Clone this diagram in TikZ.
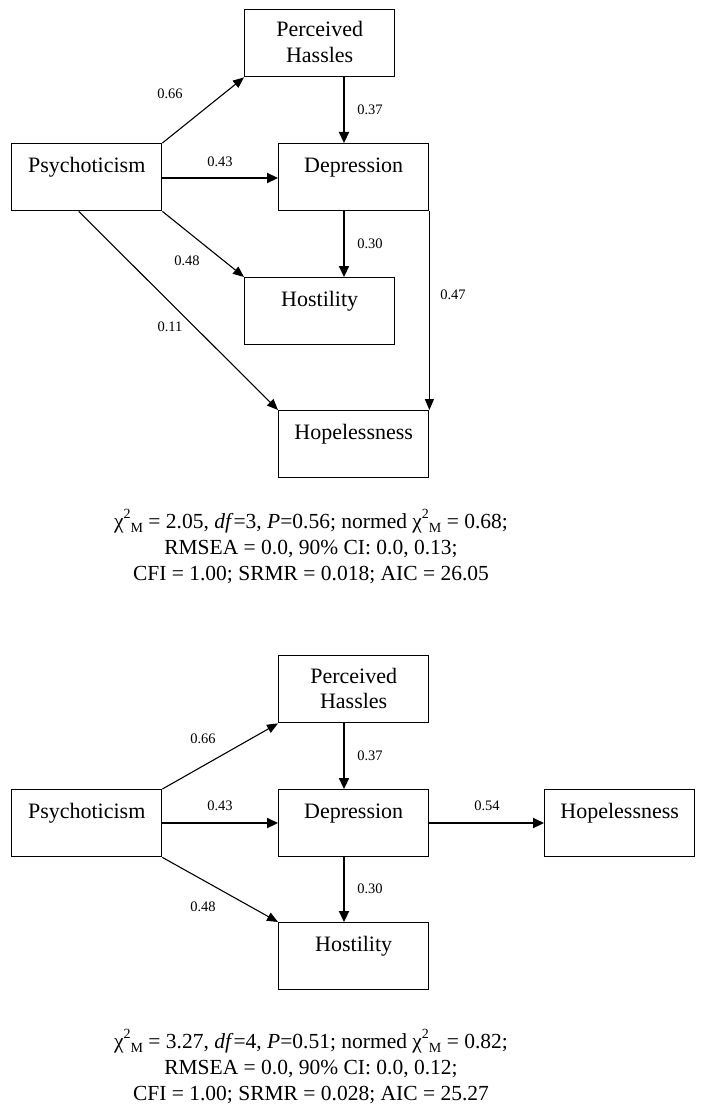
\documentclass[tikz,border=0pt]{standalone}
\usepackage{fontspec}
\setmainfont{Liberation Serif}
\usetikzlibrary{arrows.meta,calc}
\newcommand\mysup[1]{\raisebox{0.42em}{\fontsize{14}{14}\selectfont #1}}
\newcommand\mysub[1]{\raisebox{-0.22em}{\fontsize{14}{14}\selectfont #1}}
\begin{document}
\begin{tikzpicture}[x=1pt,y=-1pt,
  box/.style={draw,line width=1.4pt,minimum width=150pt,minimum height=67pt,inner sep=0pt,anchor=north west},
  boxtxt/.style={anchor=base,inner sep=0pt,font=\fontsize{22}{26}\selectfont},
  wt/.style={anchor=center,inner sep=0pt,font=\fontsize{14.5}{16}\selectfont},
  fitline/.style={anchor=base,inner sep=0pt,font=\fontsize{21.5}{24}\selectfont},
  arrthin/.style={line width=1.1pt,-{Triangle[length=11pt,width=9pt]}},
  arrthick/.style={line width=2.2pt,-{Triangle[length=11pt,width=10pt]}}]
\useasboundingbox (0,0) rectangle (707,1113);
\fill[white] (0,0) rectangle (707,1113);
% ---------- top model ----------
\node[box] (ph) at (244,9) {};
\node[box] (psy) at (11,143) {};
\node[box] (dep) at (278,143) {};
\node[box] (hos) at (244,277) {};
\node[box] (hop) at (278,410) {};
\node[boxtxt] (phA) at ($(ph.north)+(0,28)$) {Perceived};
\node[boxtxt] (phB) at ($(ph.north)+(0,54)$) {Hassles};
\node[boxtxt] (psyT) at ($(psy.north)+(0,29.5)$) {Psychoticism};
\node[boxtxt] (depT) at ($(dep.north)+(0,29.5)$) {Depression};
\node[boxtxt] (hosT) at ($(hos.north)+(0,29.5)$) {Hostility};
\node[boxtxt] (hopT) at ($(hop.north)+(0,29.5)$) {Hopelessness};
\coordinate (cx) at (344,0);
\coordinate (cy) at (0,178);
\draw[arrthin] (psy.north east) -- (ph.south west);
\draw[arrthick] (ph.south -| cx) -- (dep.north -| cx);
\draw[arrthick] (psy.east |- cy) -- (dep.west |- cy);
\draw[arrthin] (psy.south east) -- (hos.north west);
\draw[arrthin] ($(psy.south west)!0.447!(psy.south east)$) -- (hop.north west);
\draw[arrthick] (dep.south -| cx) -- (hos.north -| cx);
\draw[arrthin] (dep.south east) -- (dep.south east |- hop.north);
\node[wt] (w1) at (170,94) {0.66};
\node[wt] (w2) at (370,110) {0.37};
\node[wt] (w3) at (220,162) {0.43};
\node[wt] (w4) at (187,261) {0.48};
\node[wt] (w5) at (170,327) {0.11};
\node[wt] (w6) at (370,244) {0.30};
\node[wt] (w7) at (453,295) {0.47};
\node[fitline] (f1) at (311,528) {χ\mysup{2}\mysub{M} = 2.05, \textit{df}=3, \textit{P}=0.56; normed χ\mysup{2}\mysub{M} = 0.68;};
\node[fitline] (f2) at (311,554) {RMSEA = 0.0, 90\% CI: 0.0, 0.13;};
\node[fitline] (f3) at (311,580) {CFI = 1.00; SRMR = 0.018; AIC = 26.05};
% ---------- bottom model ----------
\node[box] (ph2) at (278,655) {};
\node[box] (psy2) at (11,789) {};
\node[box] (dep2) at (278,789) {};
\node[box] (hop2) at (544,789) {};
\node[box] (hos2) at (278,922) {};
\node[boxtxt] (ph2A) at ($(ph2.north)+(0,28)$) {Perceived};
\node[boxtxt] (ph2B) at ($(ph2.north)+(0,53)$) {Hassles};
\node[boxtxt] (psy2T) at ($(psy2.north)+(0,29)$) {Psychoticism};
\node[boxtxt] (dep2T) at ($(dep2.north)+(0,29)$) {Depression};
\node[boxtxt] (hop2T) at ($(hop2.north)+(0,29)$) {Hopelessness};
\node[boxtxt] (hos2T) at ($(hos2.north)+(0,29)$) {Hostility};
\coordinate (cy2) at (0,823);
\draw[arrthin] (psy2.north east) -- (ph2.south west);
\draw[arrthick] (ph2.south -| cx) -- (dep2.north -| cx);
\draw[arrthick] (psy2.east |- cy2) -- (dep2.west |- cy2);
\draw[arrthick] (dep2.east |- cy2) -- (hop2.west |- cy2);
\draw[arrthin] (psy2.south east) -- (hos2.north west);
\draw[arrthick] (dep2.south -| cx) -- (hos2.north -| cx);
\node[wt] (v1) at (203,739) {0.66};
\node[wt] (v2) at (370,756) {0.37};
\node[wt] (v3) at (220,806) {0.43};
\node[wt] (v4) at (487,806) {0.54};
\node[wt] (v5) at (203,907) {0.48};
\node[wt] (v6) at (370,889) {0.30};
\node[fitline] (g1) at (311,1048) {χ\mysup{2}\mysub{M} = 3.27, \textit{df}=4, \textit{P}=0.51; normed χ\mysup{2}\mysub{M} = 0.82;};
\node[fitline] (g2) at (311,1074) {RMSEA = 0.0, 90\% CI: 0.0, 0.12;};
\node[fitline] (g3) at (311,1100) {CFI = 1.00; SRMR = 0.028; AIC = 25.27};
\end{tikzpicture}
\end{document}
